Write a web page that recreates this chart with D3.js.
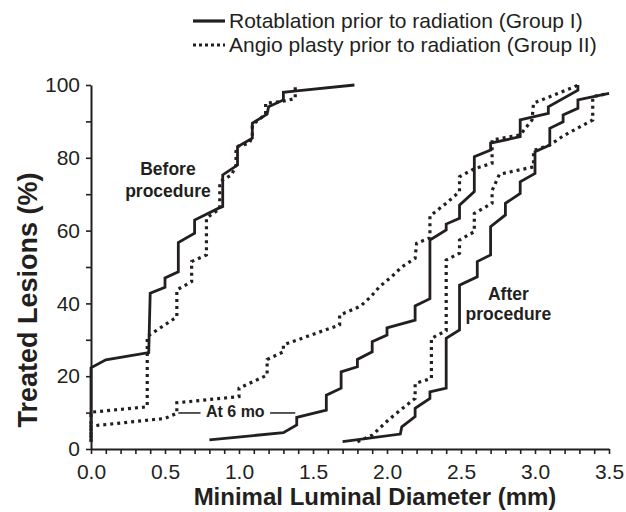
<!DOCTYPE html>
<html>
<head>
<meta charset="utf-8">
<script src="https://cdn.jsdelivr.net/npm/d3@7"></script>
<style>
  body { margin: 0; background: #fff; }
  svg text { font-family: "Liberation Sans", Arial, sans-serif; fill: #231f20; }
</style>
</head>
<body>
<svg id="chart" width="626" height="512"></svg>
<script>
// cumulative curves, [MLD (mm), treated lesions (%)]
const beforeGroupI = [[0,2],[0,22.3],[0.1,24.5],[0.39,26.5],[0.40,42.8],[0.50,44.4],[0.50,47],[0.59,48.7],[0.59,56.7],[0.70,59.3],[0.70,62.9],[0.86,66.1],[0.89,66.6],[0.89,75.3],[0.99,78],[0.99,83],[1.09,85.4],[1.09,89.5],[1.19,92],[1.20,94],[1.30,95.9],[1.30,98],[1.39,98.4],[1.78,100]];
const beforeGroupII = [[0,3],[0,10.1],[0.38,11.6],[0.38,30.9],[0.58,36.3],[0.58,43.7],[0.68,46],[0.68,51.5],[0.78,53.3],[0.78,63.4],[0.87,66],[0.87,73.4],[0.95,75.3],[0.98,78],[0.98,83],[1.07,84],[1.09,86],[1.09,89],[1.18,92],[1.18,95],[1.28,95.4],[1.38,96.3],[1.38,100]];
const sixMoGroupI = [[0.80,2.5],[1.30,4.5],[1.39,6.6],[1.39,8.7],[1.59,10.7],[1.59,14.8],[1.69,16.7],[1.69,21.2],[1.80,22.6],[1.80,24.6],[1.90,26.7],[1.90,29.5],[2.0,31.3],[2.0,33.3],[2.19,35.4],[2.19,39.3],[2.29,41.3],[2.29,57.4],[2.40,60.2],[2.40,61.8],[2.49,63.4],[2.49,67],[2.59,70.7],[2.59,80.3],[2.70,82.1],[2.70,84],[2.90,85.8],[2.90,90.4],[3.09,92.2],[3.09,94],[3.29,98.6],[3.29,100]];
const sixMoGroupII = [[0,2],[0,6.3],[0.5,8.4],[0.58,9.8],[0.58,12.7],[1.0,14.4],[1.0,16.7],[1.19,20.3],[1.19,24.6],[1.3,26.7],[1.3,28.6],[1.68,34.1],[1.68,36.8],[1.82,39.2],[1.89,41.8],[1.95,44.6],[2.03,47.3],[2.10,50],[2.19,52.4],[2.20,56.5],[2.29,58],[2.29,64],[2.40,67.5],[2.49,70.7],[2.49,74.8],[2.59,77],[2.71,78.5],[2.71,84.9],[2.90,86.3],[2.98,90.4],[2.99,95],[3.26,99.4],[3.29,100]];
const afterGroupI = [[1.70,2.0],[2.09,4.1],[2.10,6.1],[2.19,8.9],[2.19,11.2],[2.29,13.9],[2.29,15.7],[2.40,16.7],[2.40,30.4],[2.49,32.7],[2.49,45],[2.61,47.3],[2.61,51.5],[2.70,53.3],[2.70,61.1],[2.80,64.3],[2.80,67.5],[2.90,70.2],[2.90,73.4],[3.0,75.7],[3.0,81.7],[3.10,83.5],[3.10,88.1],[3.19,89.9],[3.19,91.8],[3.29,93.6],[3.29,95.9],[3.50,97.7]];
const afterGroupII = [[1.80,2.0],[1.90,3.8],[2.01,8],[2.10,11],[2.19,13.9],[2.19,18],[2.30,19.4],[2.30,30.4],[2.40,32.5],[2.40,51.9],[2.49,53.8],[2.49,57.4],[2.59,59.7],[2.59,64.7],[2.71,67.5],[2.71,71],[2.76,75.5],[2.99,77.5],[2.99,82],[3.10,83.5],[3.19,86],[3.39,90.4],[3.39,96.8],[3.50,97.7]];

const xTickLabels = ["0.0","0.5","1.0","1.5","2.0","2.5","3.0","3.5"];
const yTickLabels = ["0","20","40","60","80","100"];
const legendNames = ["Rotablation prior to radiation (Group I)", "Angio plasty prior to radiation (Group II)"];

const svg = d3.select("#chart");
const margin = {top: 85, right: 17, bottom: 63, left: 91};
const innerW = 626 - margin.left - margin.right;
const innerH = 512 - margin.top - margin.bottom;

const x = d3.scaleLinear().domain([0, 3.5]).range([0, innerW]);
const y = d3.scaleLinear().domain([0, 100]).range([innerH, 0]);

const g = svg.append("g").attr("transform", `translate(${margin.left},${margin.top})`);

// axes: every minor tick, labels only on the majors
const xMajor = xTickLabels.map(Number);
const yMajor = yTickLabels.map(Number);
const xAxis = d3.axisBottom(x)
  .tickValues(d3.range(0, 36).map(i => i / 10))
  .tickSize(5).tickSizeOuter(0)
  .tickFormat(d => {
    const i = xMajor.findIndex(v => Math.abs(v - d) < 1e-6);
    return i >= 0 ? xTickLabels[i] : "";
  });
const yAxis = d3.axisLeft(y)
  .tickValues(d3.range(0, 11).map(i => i * 10))
  .tickSize(5).tickSizeOuter(0)
  .tickFormat(d => {
    const i = yMajor.indexOf(d);
    return i >= 0 ? yTickLabels[i] : "";
  });

const xAxisG = g.append("g").attr("transform", `translate(0,${innerH})`).call(xAxis);
const yAxisG = g.append("g").call(yAxis);

[xAxisG, yAxisG].forEach(a => {
  a.select(".domain").attr("stroke", "#231f20").attr("stroke-width", 2);
  a.selectAll(".tick line").attr("stroke", "#231f20").attr("stroke-width", 1.6);
  a.selectAll(".tick text").attr("font-size", 21).attr("font-family", null);
});
xAxisG.selectAll(".tick text").attr("y", 15).attr("dy", "0.71em");
yAxisG.selectAll(".tick text").attr("x", -11);

// axis titles
svg.append("text")
  .attr("x", 375).attr("y", 505)
  .attr("text-anchor", "middle")
  .attr("font-size", 24).attr("font-weight", "bold")
  .text("Minimal Luminal Diameter (mm)");

svg.append("text")
  .attr("transform", "translate(37,300) rotate(-90)")
  .attr("text-anchor", "middle")
  .attr("font-size", 27).attr("font-weight", "bold")
  .text("Treated Lesions (%)");

// curves
const series = [
  {pts: beforeGroupI, dotted: false},
  {pts: beforeGroupII, dotted: true},
  {pts: sixMoGroupII, dotted: true},
  {pts: sixMoGroupI, dotted: false},
  {pts: afterGroupII, dotted: true},
  {pts: afterGroupI, dotted: false}
];

const line = d3.line().x(d => x(d[0])).y(d => y(d[1]));

g.append("g")
  .selectAll("path")
  .data(series)
  .join("path")
    .attr("d", d => line(d.pts))
    .attr("fill", "none")
    .attr("stroke", "#231f20")
    .attr("stroke-width", d => d.dotted ? 3.2 : 2.8)
    .attr("stroke-dasharray", d => d.dotted ? "3,4" : null)
    .attr("stroke-linejoin", "miter");

// annotations
const note = (lines, cx, cy, gap) => {
  const t = g.append("text")
    .attr("text-anchor", "middle")
    .attr("font-size", 17.5).attr("font-weight", "bold");
  lines.forEach((s, i) => t.append("tspan").attr("x", x(cx)).attr("y", y(cy) + i * gap).text(s));
};
note(["Before", "procedure"], 0.52, 75.3, 22);
note(["After", "procedure"], 2.82, 40.8, 20);

g.append("text")
  .attr("x", x(0.975)).attr("y", y(8.8))
  .attr("text-anchor", "middle")
  .attr("font-size", 16).attr("font-weight", "bold")
  .text("At 6 mo");
g.append("g")
  .selectAll("line")
  .data([[0.59, 0.74], [1.21, 1.38]])
  .join("line")
    .attr("x1", d => x(d[0])).attr("x2", d => x(d[1]))
    .attr("y1", y(9.9)).attr("y2", y(9.9))
    .attr("stroke", "#231f20").attr("stroke-width", 1.5);

// legend
const legend = svg.append("g").attr("transform", "translate(193,21)");
const item = legend.selectAll("g")
  .data(legendNames)
  .join("g")
    .attr("transform", (d, i) => `translate(0,${i * 24})`);
item.append("line")
  .attr("x1", 0).attr("x2", 32)
  .attr("stroke", "#231f20")
  .attr("stroke-width", 3.2)
  .attr("stroke-dasharray", (d, i) => i ? "3,3" : null);
item.append("text")
  .attr("x", 36).attr("y", 7)
  .attr("font-size", 21)
  .text(d => d);
</script>
</body>
</html>
